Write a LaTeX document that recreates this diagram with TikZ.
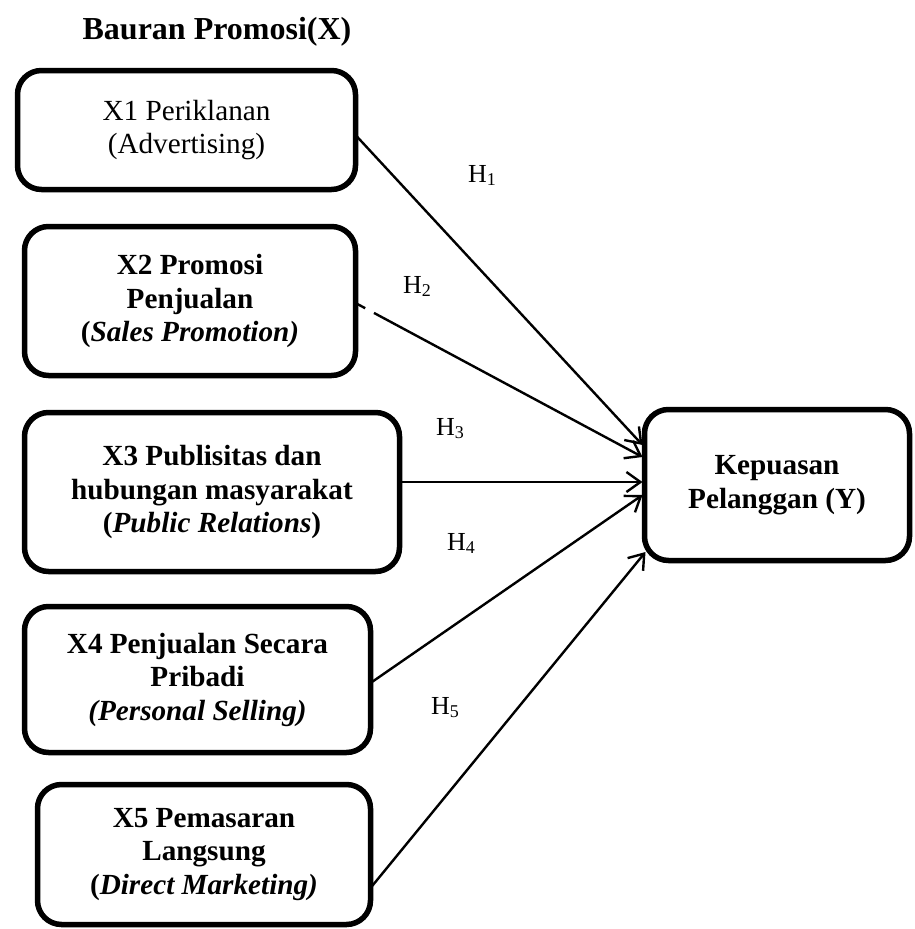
\documentclass[tikz,border=0pt]{standalone}
\usepackage{fontspec}
\setmainfont{Liberation Serif}
\usetikzlibrary{arrows.meta,calc}
\tikzset{
  varbox/.style={draw, line width=5.5pt, rounded corners=24pt, inner sep=0pt, outer sep=0pt,
    align=center, font=\fontsize{29.2}{33.5}\selectfont\bfseries},
  hyp/.style={font=\fontsize{26}{26}\selectfont, inner sep=0pt},
  arr/.style={line width=2.4pt, -{Straight Barb[length=14pt,width=20pt,line width=2.4pt]}},
}
\newcommand{\hlab}[1]{H\raisebox{-3pt}{\fontsize{18}{18}\selectfont #1}}
\begin{document}
\begin{tikzpicture}[x=1pt,y=-1pt]
\useasboundingbox (0,0) rectangle (914,929);
\node[font=\fontsize{32}{32}\selectfont\bfseries, inner sep=0pt] (title) at (217,32) {Bauran Promosi(X)};
\node[varbox, minimum width=338pt, minimum height=119pt, font=\fontsize{29.2}{32.5}\selectfont] (x1) at (186.5,130)
  {X1 Periklanan\\(Advertising)};
\node[varbox, minimum width=331pt, minimum height=149pt] (x2) at (190,301)
  {X2 Promosi\\Penjualan\\(\textit{Sales Promotion)}};
\node[varbox, minimum width=375pt, minimum height=159pt] (x3) at (212,492)
  {X3 Publisitas dan\\hubungan masyarakat\\(\textit{Public Relations})};
\node[varbox, minimum width=346pt, minimum height=146pt] (x4) at (197.5,679.5)
  {X4 Penjualan Secara\\Pribadi\\\textit{(Personal Selling)}};
\node[varbox, minimum width=333pt, minimum height=140pt] (x5) at (204,854.5)
  {X5 Pemasaran\\Langsung\\(\textit{Direct Marketing)}};
\node[varbox, minimum width=265pt, minimum height=151pt] (y) at (777,485)
  {Kepuasan\\Pelanggan (Y)};

\coordinate (s1) at ($(x1.east)+(0,5)$);
\coordinate (s2) at ($(x2.east)+(0,2)$);
\coordinate (s3) at ($(x3.east)+(0,-10)$);
\coordinate (s4) at ($(x4.east)+(0,3.5)$);
\coordinate (s5) at ($(x5.east)+(0,33.5)$);
\coordinate (e1) at ($(y.west)+(-2,-40)$);
\coordinate (e2) at ($(y.west)+(-2,-28)$);
\coordinate (e3) at ($(y.west)+(-2,-3)$);
\coordinate (e4) at ($(y.west)+(-2,10)$);
\coordinate (e5) at ($(y.west)+(1,67)$);

\draw[arr] (s1) -- (e1);
\draw[arr, dash pattern=on 11pt off 10pt on 400pt] (s2) -- (e2);
\draw[arr] (s3) -- (e3);
\draw[arr] (s4) -- (e4);
\draw[arr] (s5) -- (e5);

\node[hyp] (h1) at (482,175) {\hlab{1}};
\node[hyp] (h2) at (417,286) {\hlab{2}};
\node[hyp] (h3) at (450,429) {\hlab{3}};
\node[hyp] (h4) at (461,543) {\hlab{4}};
\node[hyp] (h5) at (445,708) {\hlab{5}};
\end{tikzpicture}
\end{document}
